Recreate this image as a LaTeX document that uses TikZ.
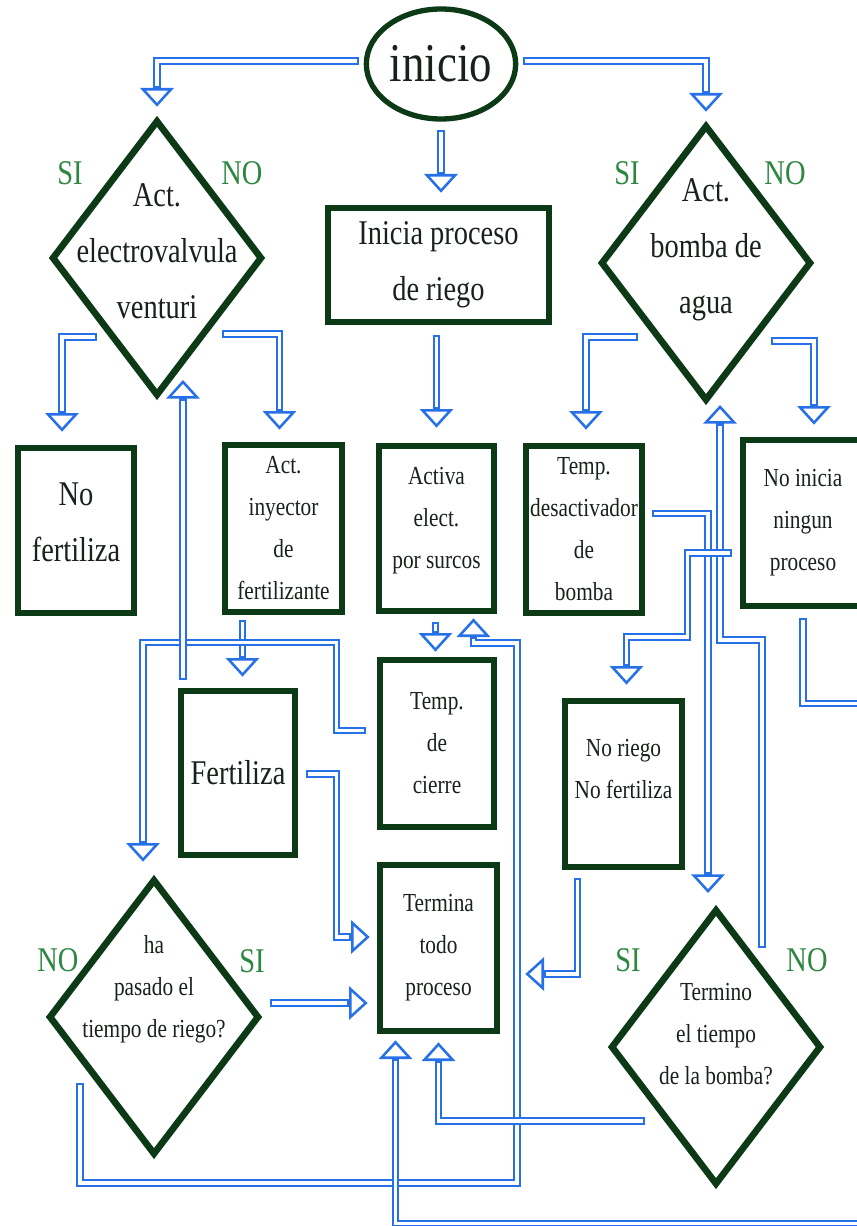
\documentclass[tikz,border=0pt]{standalone}
\usepackage{fontspec}
\setmainfont{Liberation Serif}[FakeStretch=0.82]
\usetikzlibrary{shapes.geometric,arrows.meta,calc}
\definecolor{edge}{RGB}{12,58,22}
\definecolor{ink}{RGB}{24,34,26}
\definecolor{yesno}{RGB}{45,135,65}
\definecolor{wireblue}{RGB}{38,112,232}
\tikzset{
  bigtext/.style={font=\fontsize{26}{42}\selectfont},
  smalltext/.style={font=\fontsize{19.5}{31.5}\selectfont},
  txt/.style={align=center, text=ink, inner sep=0pt},
  box/.style={draw=edge, line width=5pt, rectangle, inner sep=0pt},
  choice/.style={draw=edge, line width=5pt, diamond, inner sep=0pt,
    minimum width=158pt, minimum height=207pt},
  startnode/.style={draw=edge, line width=4pt, ellipse, inner sep=0pt,
    minimum width=112pt, minimum height=82.5pt, text=ink,
    font=\fontsize{41}{44}\selectfont},
  answer/.style={text=yesno, inner sep=0pt, font=\fontsize{26}{30}\selectfont},
  wire/.style={draw=wireblue, line width=5.4pt,
    -{Triangle[open, length=14pt, width=25pt, line width=1.9pt]},
    postaction={draw=white, line width=2.3pt, arrows=-,
      shorten >=15.8pt, shorten <=1.5pt}},
}
\begin{document}
\begin{tikzpicture}[x=0.75pt, y=-0.75pt]
\fill[white] (0,0) rectangle (856,1226);
\useasboundingbox (0,0) rectangle (856,1226);

% start
\node[startnode] (ini) at (441,64) {inicio};

% decisions
\node[choice, label={[txt, bigtext, yshift=5pt]center:{Act.\\electrovalvula\\venturi}}] (d1) at (157,258) {};
\node[choice, label={[txt, bigtext, yshift=10pt]center:{Act.\\bomba de\\agua}}] (d2) at (706,263) {};
\node[choice, label={[txt, smalltext, yshift=21pt]center:{ha\\pasado el\\tiempo de riego?}}] (d3) at (154,1017) {};
\node[choice, label={[txt, smalltext, yshift=10pt]center:{Termino\\el tiempo\\de la bomba?}}] (d4) at (716,1047) {};

% process boxes
\node[box, minimum width=165.75pt, minimum height=85.5pt,
  label={[txt, bigtext]center:{Inicia proceso\\de riego}}] (inicia) at (438.5,265) {};
\node[box, minimum width=87pt, minimum height=123.75pt,
  label={[txt, bigtext, yshift=6pt]center:{No\\fertiliza}}] (nofert) at (76,530.5) {};
\node[box, minimum width=87.75pt, minimum height=125.25pt,
  label={[txt, smalltext]center:{Act.\\inyector\\de\\fertilizante}}] (inyector) at (283.5,528.5) {};
\node[box, minimum width=86.25pt, minimum height=123.75pt,
  label={[txt, smalltext, yshift=6pt]center:{Activa\\elect.\\por surcos}}] (activa) at (436.5,528.5) {};
\node[box, minimum width=87pt, minimum height=125.25pt,
  label={[txt, smalltext]center:{Temp.\\desactivador\\de\\bomba}}] (tempdes) at (584,529.5) {};
\node[box, minimum width=90pt, minimum height=124.5pt,
  label={[txt, smalltext]center:{No inicia\\ningun\\proceso}}] (noinicia) at (803,523) {};
\node[box, minimum width=85.5pt, minimum height=125.25pt,
  label={[txt, smalltext]center:{Temp.\\de\\cierre}}] (tempcierre) at (437,743.5) {};
\node[box, minimum width=85.5pt, minimum height=123pt,
  label={[txt, bigtext]center:{Fertiliza}}] (fertiliza) at (238,773) {};
\node[box, minimum width=87.75pt, minimum height=124.5pt,
  label={[txt, smalltext, yshift=11pt]center:{No riego\\No fertiliza}}] (noriego) at (623.5,784) {};
\node[box, minimum width=87.75pt, minimum height=124.5pt,
  label={[txt, smalltext]center:{Termina\\todo\\proceso}}] (termina) at (438.5,948) {};

% answers
\node[answer] (si1) at (70,173) {SI};
\node[answer] (no1) at (242,173) {NO};
\node[answer] (si2) at (627,173) {SI};
\node[answer] (no2) at (785,173) {NO};
\node[answer] (no3) at (58,960) {NO};
\node[answer] (si3) at (252,961) {SI};
\node[answer] (si4) at (628,960) {SI};
\node[answer] (no4) at (807,960) {NO};

% connectors
\draw[wire] ($(ini.west)+(-5,-3)$) -| ($(d1.north)+(0,-10)$);
\draw[wire] ($(ini.east)+(5,-3)$) -| ($(d2.north)+(0,-10)$);
\draw[wire] ($(ini.south)+(0,8)$) -- ($(ini.south |- inicia.north)+(0,-12)$);
\draw[wire] ($(activa.north |- inicia.south)+(0,10)$) -- ($(activa.north)+(0,-15)$);
\draw[wire] ($(d1.center)+(-60,79)$) -| ($(nofert.north)+(-14,-13)$);
\draw[wire] ($(d1.center)+(65,76)$) -| ($(inyector.north)+(-4,-12)$);
\draw[wire] ($(d2.center)+(-68,74)$) -| ($(tempdes.north)+(2,-13)$);
\draw[wire] ($(d2.center)+(65,78)$) -| ($(noinicia.north)+(11,-12)$);
\draw[wire] ($(inyector.south)+(-41,5)$) -- ($(inyector.south |- fertiliza.north)+(-41,-11)$);
\draw[wire] ($(activa.south)+(-1,8)$) -- ($(activa.south |- tempcierre.north)+(-1,-5)$);
\draw[wire] ($(tempcierre.west)+(-11,-13)$) -- ++(-29,0) -- ++(0,-88) -| ($(d3.north)+(-11,-14)$);
\draw[wire] ($(fertiliza.north)+(-55,-8)$) -- ($(fertiliza.north |- d1.center)+(-55,122)$);
\draw[wire] ($(fertiliza.east)+(8,1)$) -| ($(termina.west)+(-40,-11)$) -- ($(termina.west)+(-7,-11)$);
\draw[wire] ($(d3.center)+(116,-14)$) -- ($(termina.west)+(-9,55)$);
\draw[wire] ($(d3.center)+(-74,66)$) -- ++(0,100) -| ++(437,-540) -| ($(activa.south)+(37,4)$);
\draw[wire] ($(d4.center)+(46,-99)$) -- ++(0,-308) -| ($(d2.center)+(14,142)$);
\draw[wire] ($(tempdes.east)+(7,-16)$) -| ($(d4.center)+(-8,-154)$);
\draw[wire] ($(noinicia.west)+(-8,30)$) -| ++(-44,84) -| ($(noriego.north)+(3,-13)$);
\draw[wire] ($(noinicia.south)+(0,9)$) -- ++(0,85) -- ++(63,0) -- ++(0,520) -| ($(termina.south)+(-43,6)$);
\draw[wire] ($(d4.center)+(-71,74)$) -| ($(termina.south)+(0,8)$);
\draw[wire] ($(noriego.south)+(-46,8)$) |- ($(termina.east)+(25,26)$);
\end{tikzpicture}
\end{document}
